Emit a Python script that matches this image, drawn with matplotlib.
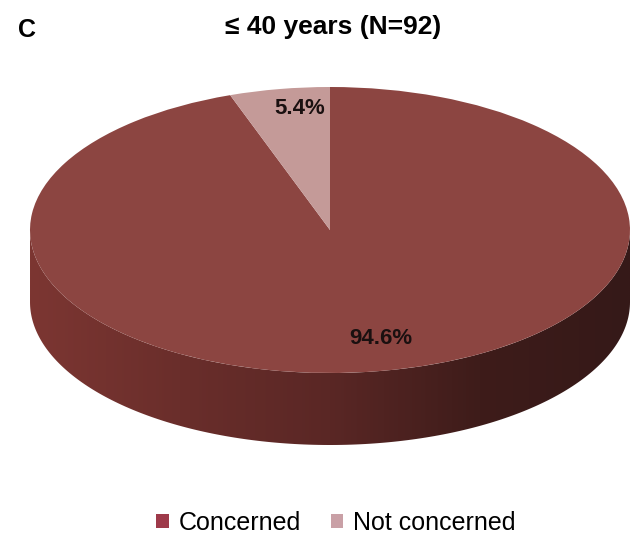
import numpy as np
import matplotlib.pyplot as plt
from matplotlib.patches import Patch, Polygon
from matplotlib.transforms import Affine2D
from matplotlib.colors import LinearSegmentedColormap

plt.rcParams['font.family'] = ['Liberation Sans', 'DejaVu Sans']

# 数据
labels = ['Concerned', 'Not concerned']
values = [94.6, 5.4]
pie_colors = ['#8c4541', '#c49a98']
legend_colors = ['#9e3a4a', '#c9a0a6']
title = '≤ 40 years (N=92)'

# 画布: 数据坐标 = 像素坐标
W, H = 633, 534
fig = plt.figure(figsize=(W / 100, H / 100), dpi=100)
ax = fig.add_axes([0, 0, 1, 1])

# 椭圆饼的几何参数
cx, cy = 330, H - 230
a, b = 300, 143
depth = 72

# 侧面 (前半圈拉伸)
t = np.linspace(np.pi, 2 * np.pi, 200)
top_x = cx + a * np.cos(t)
top_y = cy + b * np.sin(t)
side = np.concatenate([np.c_[top_x, top_y], np.c_[top_x[::-1], top_y[::-1] - depth]])
poly = Polygon(side, closed=True, facecolor='none', edgecolor='none')
ax.add_patch(poly)
side_cmap = LinearSegmentedColormap.from_list(
    'side', ['#7c3632', '#6a2e2b', '#5a2725', '#3e1c1a', '#351918'])
grad = np.linspace(0, 1, 256).reshape(1, -1)
im = ax.imshow(grad, cmap=side_cmap, extent=[cx - a, cx + a, cy - b - depth, cy],
               aspect='auto', zorder=1)
im.set_clip_path(poly)

# 顶面: 用饼图再压扁成椭圆
squash = Affine2D().scale(a, b).translate(cx, cy) + ax.transData
wedges, texts, autotexts = ax.pie(values, colors=pie_colors, startangle=90, counterclock=False,
                                  autopct='%.1f%%', pctdistance=0.8, radius=1,
                                  wedgeprops=dict(linewidth=0),
                                  textprops=dict(fontsize=16, fontweight='bold', color='#1a1010'),
                                  frame=True)
for w in wedges:
    w.set_transform(squash)
    w.set_zorder(2)
for tx in autotexts:
    tx.set_transform(squash)
    tx.set_zorder(3)
autotexts[0].set_position((0.17, -0.76))
autotexts[1].set_position((-0.1, 0.85))
ax.set_xlim(0, W)
ax.set_ylim(0, H)
ax.set_aspect('auto')
ax.axis('off')

fig.text(333 / W, 1 - 27 / H, title, ha='center', va='center', fontsize=19, fontweight='bold')
fig.text(18 / W, 1 - 30 / H, 'C', ha='left', va='center', fontsize=18, fontweight='bold')

handles = [Patch(facecolor=c, edgecolor='none', label=l) for c, l in zip(legend_colors, labels)]
fig.legend(handles=handles, loc='center', bbox_to_anchor=(336 / W, 1 - 523 / H), ncol=2,
           frameon=False, fontsize=18, handlelength=0.5, handleheight=0.5,
           handletextpad=0.4, columnspacing=1.2, borderpad=0)

fig.savefig('out.png', dpi=100)
